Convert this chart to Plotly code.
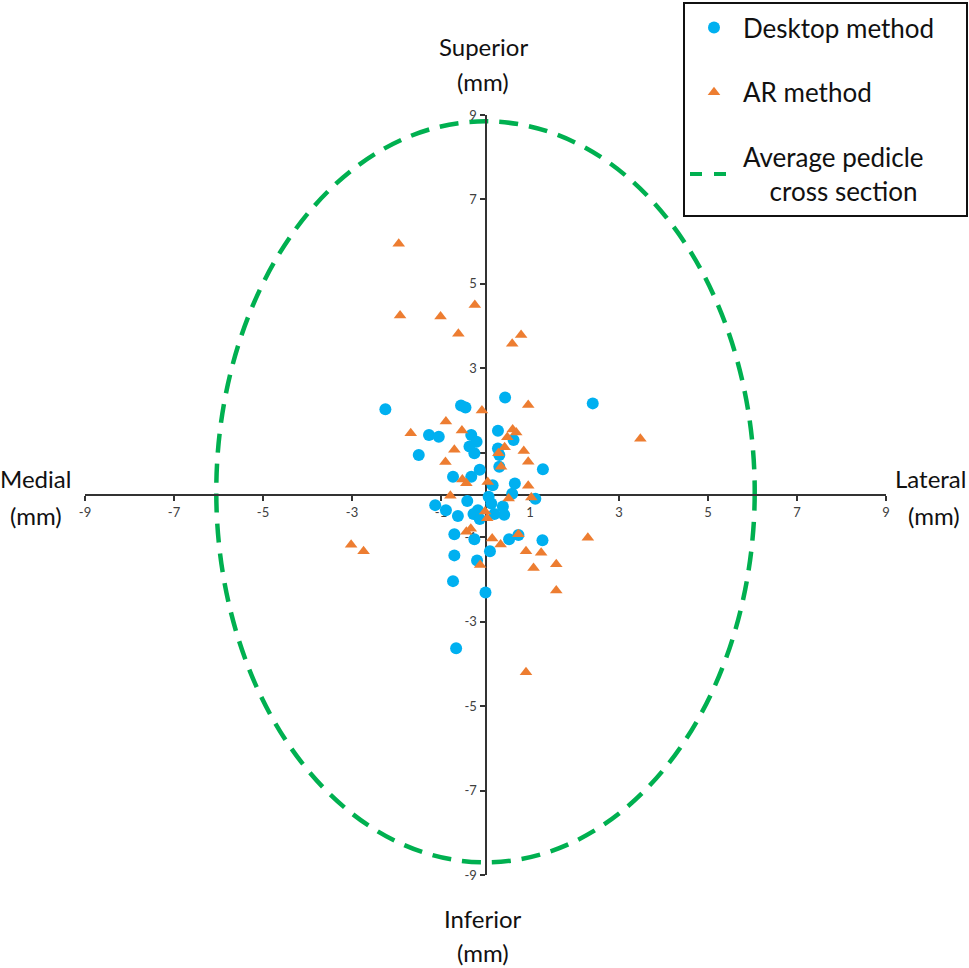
import plotly.graph_objects as go

# desktop method points (mm)
desk_x = [-2.25, -0.55, -0.45, 0.44, 2.41, -1.27, -1.05, -1.50, -0.32, -0.20,
          -0.36, -0.25, 0.28, 0.28, 0.31, 0.31, 0.63, 1.29, -0.13, -0.32,
          -0.73, 0.16, 0.66, 0.60, 0.07, 1.12, -1.13, -0.89, -0.41, -0.62,
          -0.27, -0.17, -0.13, 0.13, 0.39, 0.20, 0.42, -0.70, -0.25, 0.53,
          0.74, 1.28, 0.10, -0.70, -0.19, -0.73, 0.00, -0.66]
desk_y = [2.03, 2.12, 2.07, 2.31, 2.17, 1.42, 1.38, 0.95, 1.42, 1.26,
          1.15, 0.99, 1.52, 1.10, 0.95, 0.67, 1.30, 0.61, 0.60, 0.43,
          0.43, 0.23, 0.27, 0.03, -0.04, -0.09, -0.24, -0.36, -0.14, -0.50,
          -0.45, -0.36, -0.57, -0.20, -0.27, -0.45, -0.47, -0.93, -1.05, -1.05,
          -0.95, -1.07, -1.33, -1.43, -1.55, -2.04, -2.31, -3.63]

# AR method points (mm)
ar_x = [-1.95, -1.92, -1.01, -0.24, -0.61, 0.60, 0.80, -0.08, 0.96, -0.89,
        -1.68, -0.53, 0.61, 0.69, 0.49, 0.43, 0.29, -0.70, -0.90, 0.86,
        0.96, 0.35, -0.52, -0.43, 0.05, 0.96, -0.79, 0.52, 1.03, -0.01,
        0.04, -0.43, -0.33, 0.15, 0.34, 0.74, 0.91, 1.25, 2.30, 1.59,
        1.08, -0.12, 1.59, -3.02, -2.74, 3.48, 0.91]
ar_y = [5.95, 4.25, 4.23, 4.50, 3.82, 3.58, 3.79, 2.00, 2.13, 1.74,
        1.46, 1.53, 1.55, 1.48, 1.37, 1.13, 0.99, 1.07, 0.78, 1.04,
        0.79, 0.67, 0.37, 0.28, 0.31, 0.22, -0.02, -0.08, -0.06, -0.39,
        -0.55, -0.87, -0.80, -1.03, -1.17, -0.93, -1.33, -1.37, -1.01, -1.64,
        -1.73, -1.66, -2.26, -1.18, -1.33, 1.33, -4.20]

# average pedicle cross section (ellipse bounds, mm)
ellipse_x = [-6.05, 6.05]
ellipse_y = [-8.70, 8.85]

tick_vals = [-9, -7, -5, -3, -1, 1, 3, 5, 7, 9]
tick_text = ["-9", "-7", "-5", "-3", "-1", "1", "3", "5", "7", "9"]

green = "#00B050"
nb = "\u00a0"

fig = go.Figure()
fig.add_trace(go.Scatter(
    x=desk_x, y=desk_y, mode="markers", name="Desktop method" + nb * 4,
    legendgroup="a",
    marker=dict(symbol="circle", size=12, color="#00B0F0")))
fig.add_trace(go.Scatter(
    x=ar_x, y=ar_y, mode="markers", name="AR method",
    legendgroup="b",
    marker=dict(symbol="triangle-up", size=11, color="#ED7D31")))
# legend entry for the ellipse
fig.add_trace(go.Scatter(
    x=[None], y=[None], mode="lines",
    name="Average pedicle<br>" + nb * 4 + "cross section",
    legendgroup="c",
    line=dict(color=green, width=4, dash="dash")))

fig.add_shape(type="circle", xref="x", yref="y",
              x0=ellipse_x[0], x1=ellipse_x[1],
              y0=ellipse_y[0], y1=ellipse_y[1],
              line=dict(color=green, width=4.5, dash="19px,11px"),
              layer="below")

axis_common = dict(
    range=[-9, 9], tickvals=tick_vals, ticktext=tick_text,
    showgrid=False, zeroline=False,
    showline=True, linecolor="#333333", linewidth=2,
    ticks="outside", ticklen=5, tickwidth=2, tickcolor="#333333",
    tickfont=dict(family="Lato", size=13, color="#404040"),
    anchor="free", position=0.5, layer="below traces", fixedrange=True,
)
fig.update_xaxes(**axis_common)
fig.update_yaxes(**axis_common)

W, H = 969, 968
L, R, T, B = 85, 83, 115, 93
pw, ph = W - L - R, H - T - B


def px(xp):
    return (xp - L) / pw


def py(yp):
    return (H - B - yp) / ph


title_font = dict(family="Lato", size=24, color="#111111")
labels = [
    ("Medial", 35, 478),
    ("(mm)", 36, 515),
    ("Lateral", 931, 478),
    ("(mm)", 934, 515),
    ("Superior", 483, 47),
    ("(mm)", 483, 82),
    ("Inferior", 483, 918),
    ("(mm)", 483, 952),
]
for txt, ax, ay in labels:
    fig.add_annotation(text=txt, x=px(ax), y=py(ay), xref="paper", yref="paper",
                       showarrow=False, font=title_font,
                       xanchor="center", yanchor="middle")

fig.update_layout(
    width=W, height=H,
    margin=dict(l=L, r=R, t=T, b=B, autoexpand=False),
    plot_bgcolor="white", paper_bgcolor="white",
    showlegend=True,
    legend=dict(
        x=px(683), y=py(2),
        xanchor="left", yanchor="top",
        bordercolor="#111111", borderwidth=2, bgcolor="white",
        font=dict(family="Lato", size=26, color="#111111"),
        tracegroupgap=28, traceorder="grouped",
        itemwidth=48,
    ),
)

fig.write_html("out.html", config={"displayModeBar": False},
               post_script="document.body.style.margin='0';")
